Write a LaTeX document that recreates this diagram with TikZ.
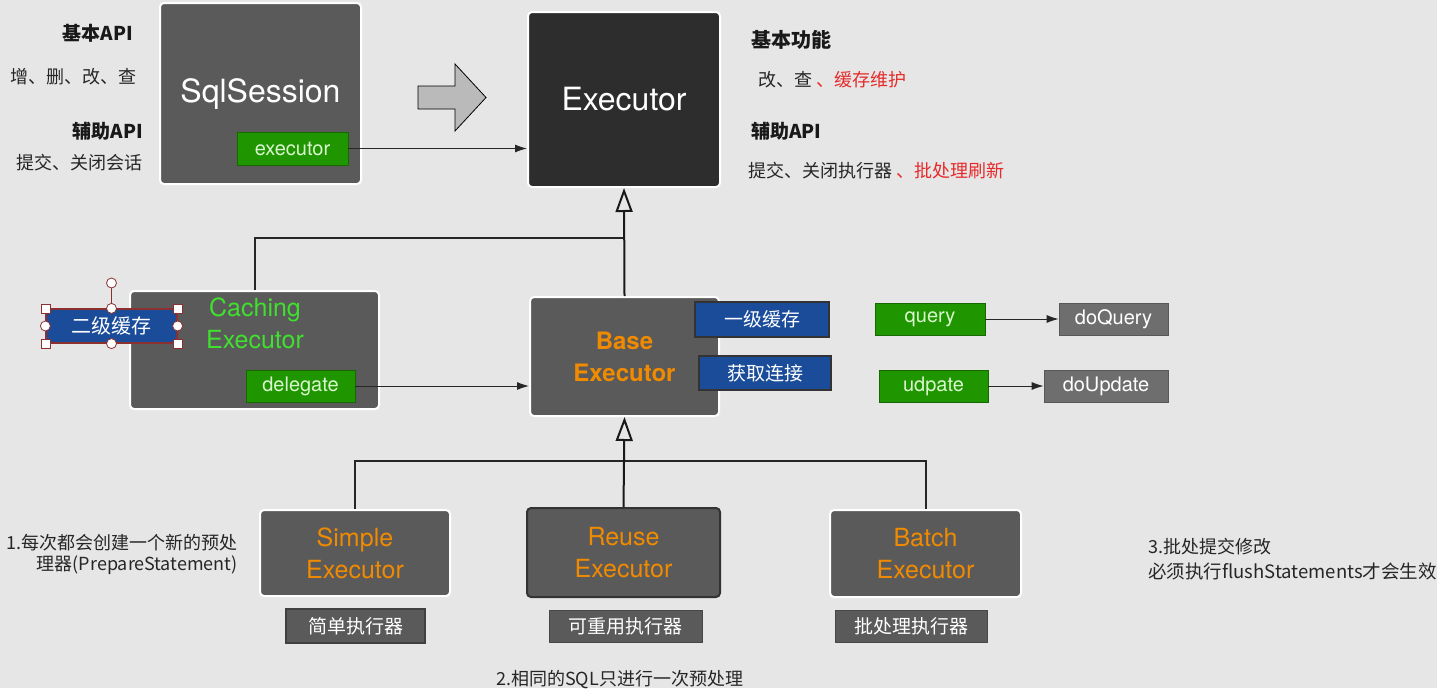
\documentclass[tikz,border=0pt]{standalone}
\usepackage{fontspec}
\setmainfont{Noto Sans CJK SC}
\newfontfamily\hv{TeX Gyre Heros}
\usetikzlibrary{arrows.meta}
\definecolor{bgc}{HTML}{E6E6E6}
\definecolor{boxgray}{HTML}{5A5A5A}
\definecolor{execdark}{HTML}{2D2D2D}
\definecolor{greenbox}{HTML}{1F9500}
\definecolor{greentext}{HTML}{D9F7CF}
\definecolor{bluebox}{HTML}{1A4C9A}
\definecolor{methgray}{HTML}{6E6E6E}
\definecolor{cachegreen}{HTML}{3FE02E}
\definecolor{orangec}{HTML}{F08A00}
\definecolor{redc}{HTML}{E52B2B}
\definecolor{handlec}{HTML}{8B2F2F}
\begin{document}
\begin{tikzpicture}[x=1pt,y=-1pt,
  bigbox/.style={draw=white, line width=2pt, rounded corners=4pt, fill=boxgray, inner sep=0pt, text=white},
  greenlab/.style={fill=greenbox, draw=greenbox!70!black, line width=0.6pt, inner sep=0pt, text=greentext, font=\hv\fontsize{20}{24}\selectfont},
  bluelab/.style={fill=bluebox, draw=black!80, line width=1.5pt, inner sep=0pt, text=white, font=\fontsize{19}{23}\selectfont},
  methlab/.style={fill=methgray, draw=methgray!80!black, line width=0.6pt, inner sep=0pt, text=white, font=\hv\fontsize{20}{24}\selectfont},
  graylab/.style={fill=boxgray, draw=black!75, line width=1.2pt, inner sep=0pt, text=white, font=\fontsize{19}{23}\selectfont},
  subexec/.style={bigbox, text=orangec, align=center, font=\hv\fontsize{25}{32}\selectfont},
  txt/.style={inner sep=0pt, text=black!85, font=\fontsize{18}{22}\selectfont},
  btxt/.style={inner sep=0pt, text=black!90, font=\bfseries\fontsize{19}{23}\selectfont},
  conn/.style={draw=black!85, line width=1pt},
  inh/.style={draw=black!90, line width=2pt, -{Triangle[open, fill=bgc, length=24pt, width=17pt]}},
  handsq/.style={draw=handlec, fill=white, line width=0.8pt, minimum size=9pt, inner sep=0pt},
  handci/.style={draw=handlec, fill=white, line width=0.8pt, circle, minimum size=10pt, inner sep=0pt}
]
\fill[bgc] (0,0) rectangle (1437,688);
\useasboundingbox (0,0) rectangle (1437,688);

% left texts
\node[btxt, anchor=east] (t1) at (133,33) {基本API};
\node[txt, anchor=west] (t2) at (10,77) {增、删、改、查};
\node[btxt, anchor=east] (t3) at (143,131) {辅助API};
\node[txt, anchor=east] (t4) at (143,163) {提交、关闭会话};

% right texts
\node[btxt, anchor=west, font=\bfseries\fontsize{20}{24}\selectfont] (r1) at (751,40) {基本功能};
\node[txt, anchor=west] (r2) at (758,80) {改、查 \textcolor{redc}{、缓存维护}};
\node[btxt, anchor=west] (r3) at (751,131) {辅助API};
\node[txt, anchor=west] (r4) at (748,171) {提交、关闭执行器 \textcolor{redc}{、批处理刷新}};

% SqlSession
\node[bigbox, minimum width=201pt, minimum height=181pt] (sqls) at (260.5,93.5) {};
\node[inner sep=0pt, text=white, font=\hv\fontsize{32}{38}\selectfont] (sqlstxt) at (260.5,94) {SqlSession};
\node[greenlab, minimum width=111pt, minimum height=33pt] (execg) at (292.5,148.5) {executor};

% big arrow
\filldraw[fill=black!27, draw=black, line width=0.8pt] (418,86) -- (455,86) -- (455,64) -- (486,97.5) -- (455,131) -- (455,109) -- (418,109) -- cycle;

% Executor
\node[bigbox, fill=execdark, minimum width=192pt, minimum height=175pt, font=\hv\fontsize{32}{38}\selectfont] (executor) at (624,99.5) {Executor};
\draw[conn, -{Latex[length=12pt, width=8pt]}] (execg.east) -- (execg.east -| executor.west);

% Caching Executor
\node[bigbox, minimum width=249pt, minimum height=118pt] (caching) at (254.5,350) {};
\node[inner sep=0pt, text=cachegreen, align=center, font=\hv\fontsize{25}{32}\selectfont] (cachtxt) at (255,323) {Caching\\Executor};
\node[greenlab, minimum width=109pt, minimum height=32pt] (deleg) at (300.5,386) {delegate};

% 二级缓存 with selection handles
\node[bluelab, draw=handlec, line width=1.2pt, minimum width=131pt, minimum height=34pt, font=\fontsize{20}{24}\selectfont] (l2) at (111.5,326) {二级缓存};
\coordinate (rot) at (111.5,283);
\draw[handlec, line width=0.8pt] (l2.north) -- (rot);
\node[handci] (hr) at (rot) {};
\node[handsq] (h1) at (l2.north west) {};
\node[handsq] (h2) at (l2.north east) {};
\node[handsq] (h3) at (l2.south west) {};
\node[handsq] (h4) at (l2.south east) {};
\node[handci] (h5) at (l2.north) {};
\node[handci] (h6) at (l2.south) {};
\node[handci] (h7) at (l2.west) {};
\node[handci] (h8) at (l2.east) {};

% Base Executor
\node[bigbox, minimum width=189pt, minimum height=119pt, text=orangec, align=center, font=\hv\bfseries\fontsize{24}{32}\selectfont] (base) at (624.5,356.5) {Base\\Executor};
\node[bluelab, minimum width=134pt, minimum height=35pt] (l1) at (762,319.5) {一级缓存};
\node[bluelab, minimum width=132pt, minimum height=34pt] (conn) at (765,373) {获取连接};

\draw[conn, -{Latex[length=12pt, width=8pt]}] (deleg.east) -- (deleg.east -| base.west);

% inheritance to Executor
\coordinate (j1) at (624.5,238);
\draw[conn, line width=2pt] (caching.north -| cachtxt.north) |- (j1);
\draw[inh] (base.north) -- (executor.south);

% query / update
\node[greenlab, minimum width=110pt, minimum height=32pt] (query) at (930,319) {query};
\node[methlab, minimum width=109pt, minimum height=32pt] (doq) at (1113.5,319) {doQuery};
\node[greenlab, minimum width=109pt, minimum height=32pt] (upd) at (933.5,386) {udpate};
\node[methlab, minimum width=124pt, minimum height=32pt] (dou) at (1106,386) {doUpdate};
\draw[conn, -{Latex[length=12pt, width=8pt]}] (query) -- (doq);
\draw[conn, -{Latex[length=12pt, width=8pt]}] (upd) -- (dou);

% sub executors
\node[subexec, minimum width=190pt, minimum height=86pt] (simple) at (355,553) {Simple\\Executor};
\node[subexec, draw=black!80, minimum width=193pt, minimum height=89pt] (reuse) at (623.5,552.5) {Reuse\\Executor};
\node[subexec, minimum width=191pt, minimum height=87pt] (batch) at (925.5,553.5) {Batch\\Executor};

\coordinate (bus) at (624.5,461);
\draw[conn, line width=2pt] (simple.north) |- (bus) -| (batch.north);
\draw[inh] (reuse.north) -- (base.south);

% labels
\node[graylab, minimum width=139pt, minimum height=34pt] (lab1) at (355.5,626) {简单执行器};
\node[graylab, draw=boxgray!80!black, line width=0.6pt, minimum width=153pt, minimum height=32pt] (lab2) at (625.5,626) {可重用执行器};
\node[graylab, draw=boxgray!80!black, line width=0.6pt, minimum width=152pt, minimum height=32pt] (lab3) at (911,626) {批处理执行器};

% notes
\node[txt, anchor=east] (n1a) at (238,543) {1.每次都会创建一个新的预处};
\node[txt, anchor=east] (n1b) at (238,565) {理器(PrepareStatement)};
\node[txt, anchor=west] (n2) at (496,680) {2.相同的SQL只进行一次预处理};
\node[txt, anchor=west] (n3a) at (1148,547) {3.批处提交修改};
\node[txt, anchor=west, font=\fontsize{18.5}{22}\selectfont] (n3b) at (1148,571) {必须执行flushStatements才会生效};
\end{tikzpicture}
\end{document}
